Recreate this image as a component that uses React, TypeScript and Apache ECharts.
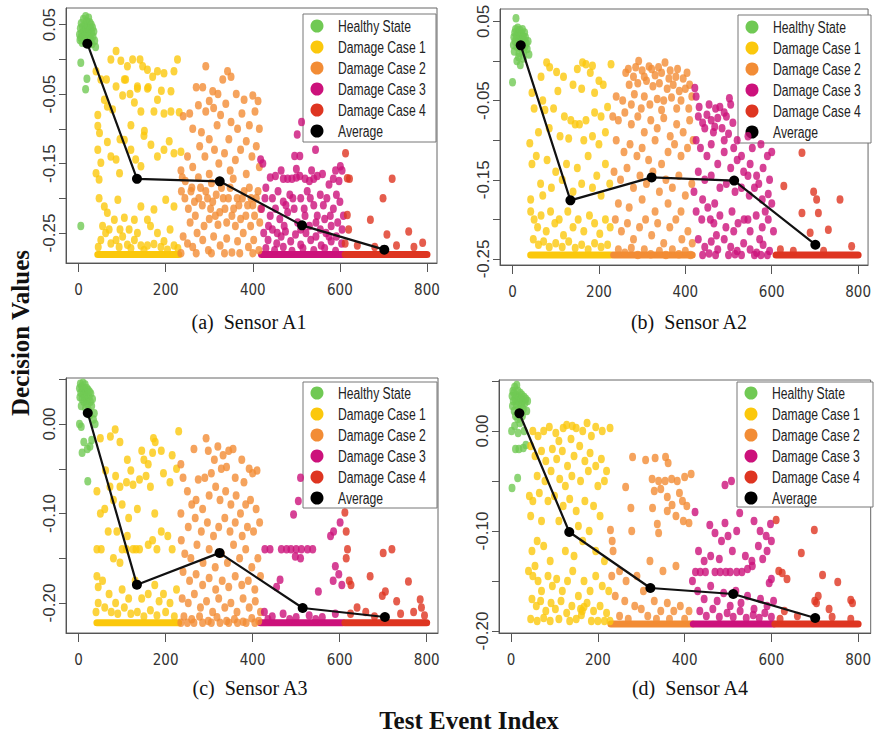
import React, { useEffect, useRef } from "react";
import * as echarts from "echarts";

// ---------- names, ticks, captions ----------
const seriesNames = ["Healthy State", "Damage Case 1", "Damage Case 2", "Damage Case 3", "Damage Case 4", "Average"];
const xTicks = [0, 200, 400, 600, 800];
const yTicksAB = [0.05, 0, -0.05, -0.1, -0.15, -0.2, -0.25];
const yLabelsAB = [0.05, -0.05, -0.15, -0.25];
const yTicksCD = [0.05, 0, -0.05, -0.1, -0.15, -0.2];
const yLabelsCD = [0, -0.1, -0.2];
const captions = ["(a)\u2002Sensor A1", "(b)\u2002Sensor A2", "(c)\u2002Sensor A3", "(d)\u2002Sensor A4"];
const yTitle = "Decision Values";
const xTitle = "Test Event Index";

// ---------- Sensor A1 ----------
const healthyA = [[2,0.036],[3,0.028],[4,0.045],[5,0.031],[6,0.052],[7,0.038],[8,0.024],[9,0.047],[10,0.033],[11,0.058],[12,0.041],[13,0.027],[14,0.05],[15,0.036],[16,0.062],[17,0.044],[18,0.03],[19,0.055],[20,0.039],[21,0.048],[22,0.026],[23,0.06],[24,0.042],[25,0.034],[26,0.053],[27,0.045],[28,0.029],[29,0.05],[30,0.038],[31,0.022],[32,0.046],[33,0.033],[35,0.04],[37,0.027],[39,0.018],[5,-0.005],[19,-0.028],[16,-0.043],[5,-0.24]];
const d1A = [[40,-0.017],[51,-0.029],[64,-0.029],[74,0.0],[86,0.012],[97,-0.002],[112,-0.01],[124,0.0],[141,0.0],[147,-0.01],[158,-0.015],[170,-0.025],[181,-0.017],[196,-0.02],[212,-0.046],[227,0.0],[219,-0.017],[105,-0.029],[135,-0.039],[160,-0.04],[190,-0.045],
[44,-0.08],[44,-0.096],[48,-0.106],[59,-0.058],[66,-0.068],[78,-0.072],[86,-0.039],[101,-0.052],[108,-0.029],[118,-0.05],[128,-0.062],[135,-0.042],[143,-0.075],[158,-0.042],[173,-0.075],[181,-0.058],[196,-0.078],[212,-0.075],[231,-0.076],[120,-0.095],[150,-0.11],[95,-0.115],
[44,-0.13],[51,-0.149],[66,-0.119],[74,-0.14],[86,-0.144],[94,-0.164],[105,-0.116],[120,-0.13],[131,-0.144],[143,-0.154],[151,-0.103],[166,-0.123],[181,-0.14],[196,-0.13],[208,-0.118],[219,-0.135],[235,-0.133],[40,-0.164],[47,-0.173],
[47,-0.2],[59,-0.212],[66,-0.221],[82,-0.231],[90,-0.202],[105,-0.228],[116,-0.245],[128,-0.231],[143,-0.212],[158,-0.231],[173,-0.216],[181,-0.25],[200,-0.202],[219,-0.212],[55,-0.24],[70,-0.245],[95,-0.245],[135,-0.25],[165,-0.24],[210,-0.245],
[51,-0.26],[62,-0.25],[74,-0.265],[86,-0.26],[101,-0.255],[112,-0.267],[128,-0.26],[143,-0.268],[158,-0.268],[173,-0.266],[189,-0.27],[204,-0.274],[219,-0.268],[45,-0.27],[93,-0.27],[120,-0.272],[150,-0.275],[196,-0.262],[228,-0.272]];
const d2A = [[292,-0.01],[342,-0.017],[331,-0.029],[350,-0.025],[270,-0.04],[285,-0.04],[308,-0.046],[320,-0.05],[362,-0.05],[300,-0.06],[380,-0.058],[400,-0.052],[412,-0.06],
[240,-0.082],[255,-0.078],[275,-0.066],[292,-0.075],[310,-0.07],[326,-0.08],[338,-0.064],[350,-0.09],[365,-0.1],[375,-0.078],[392,-0.095],[405,-0.075],[415,-0.1],[262,-0.1],[282,-0.105],[300,-0.115],[318,-0.095],[345,-0.115],[385,-0.118],
[235,-0.16],[250,-0.14],[262,-0.155],[278,-0.125],[290,-0.14],[300,-0.165],[312,-0.13],[322,-0.15],[335,-0.135],[348,-0.16],[360,-0.145],[372,-0.13],[385,-0.165],[398,-0.14],[408,-0.125],[415,-0.155],[245,-0.175],[275,-0.17],[305,-0.178],[355,-0.172],
[236,-0.19],[244,-0.2],[252,-0.215],[260,-0.185],[268,-0.225],[276,-0.2],[284,-0.21],[292,-0.19],[300,-0.23],[308,-0.205],[316,-0.195],[324,-0.22],[332,-0.2],[340,-0.235],[348,-0.185],[356,-0.215],[364,-0.2],[372,-0.23],[380,-0.19],[388,-0.21],[396,-0.2],[404,-0.225],[412,-0.19],[418,-0.215],[256,-0.235],[288,-0.24],[320,-0.238],[360,-0.24],[395,-0.24],
[238,-0.17],[258,-0.19],[266,-0.205],[280,-0.185],[296,-0.2],[303,-0.215],[314,-0.225],[328,-0.185],[336,-0.215],[344,-0.2],[352,-0.225],[368,-0.21],[376,-0.2],[384,-0.225],[392,-0.185],[400,-0.21],[408,-0.2],[416,-0.235],
[240,-0.255],[250,-0.265],[262,-0.27],[272,-0.25],[285,-0.26],[298,-0.275],[310,-0.255],[325,-0.268],[340,-0.258],[352,-0.278],[365,-0.262],[378,-0.25],[390,-0.27],[402,-0.26],[414,-0.275],[235,-0.279],[270,-0.279],[305,-0.279],[335,-0.279],[370,-0.279],[400,-0.279]];
const d3A = [[502,-0.108],[544,-0.13],[496,-0.139],[508,-0.139],[418,-0.144],[423,-0.15],[601,-0.154],[605,-0.16],[512,-0.09],
[440,-0.17],[452,-0.168],[470,-0.172],[480,-0.172],[490,-0.172],[500,-0.17],[508,-0.168],[520,-0.172],[530,-0.175],[540,-0.172],[548,-0.168],[465,-0.16],[500,-0.158],[535,-0.16],[560,-0.165],[575,-0.18],[585,-0.172],[590,-0.16],[598,-0.175],
[430,-0.185],[445,-0.2],[458,-0.19],[470,-0.205],[485,-0.195],[495,-0.215],[510,-0.2],[525,-0.19],[540,-0.21],[555,-0.195],[570,-0.2],[585,-0.215],[600,-0.205],[440,-0.225],[462,-0.23],[480,-0.22],[503,-0.235],[520,-0.225],[545,-0.235],[565,-0.23],[580,-0.24],[595,-0.235],[608,-0.225],[420,-0.215],
[428,-0.2],[452,-0.215],[476,-0.21],[492,-0.2],[518,-0.215],[532,-0.2],[548,-0.225],[562,-0.21],[578,-0.225],[592,-0.195],[605,-0.245],[436,-0.24],[456,-0.25],[472,-0.24],[510,-0.245],[530,-0.24],[555,-0.245],[575,-0.255],
[425,-0.25],[435,-0.26],[445,-0.245],[455,-0.265],[465,-0.255],[475,-0.248],[487,-0.262],[498,-0.252],[510,-0.267],[522,-0.25],[533,-0.26],[545,-0.255],[557,-0.268],[568,-0.25],[580,-0.262],[592,-0.255],[604,-0.265],[430,-0.272],[450,-0.275],[470,-0.27],[490,-0.276],[515,-0.272],[540,-0.275],[565,-0.272],[590,-0.276]];
const d4A = [[613,-0.135],[617,-0.171],[622,-0.172],[720,-0.172],[699,-0.2],[617,-0.224],[670,-0.231],[708,-0.252],[758,-0.248],[620,-0.245],[790,-0.264],[640,-0.268],[680,-0.27],[730,-0.268],[770,-0.27],[612,-0.265]];
const avgA = [[20,0.0226],[134,-0.172],[324,-0.1756],[513,-0.239],[702,-0.274]];
const floorYA = -0.281;
const floorsA = [[1,44,230],[3,420,608],[4,612,800]];

// ---------- Sensor A2 ----------
const healthyB = [[2,0.02],[3,0.03],[4,0.012],[5,0.036],[6,0.025],[7,0.04],[8,0.054],[9,0.03],[10,0.018],[11,0.033],[12,0.042],[13,0.024],[14,0.037],[15,0.01],[16,0.028],[17,0.039],[18,0.022],[19,0.032],[20,0.015],[21,0.035],[22,0.027],[23,0.04],[24,0.02],[25,0.031],[26,0.012],[27,0.026],[28,0.036],[29,0.018],[30,0.03],[32,0.022],[34,0.015],[36,0.025],[38,0.008],[10,0.0],[18,-0.005],[25,0.003],[0,-0.027],[14,0.005]];
const d1B = [[79,-0.002],[86,-0.008],[102,-0.014],[118,-0.02],[162,-0.002],[170,-0.004],[185,-0.006],[228,-0.004],[150,-0.01],[180,-0.015],[200,-0.025],[66,-0.02],[140,-0.03],[160,-0.035],[190,-0.04],[210,-0.03],[105,-0.038],[45,-0.04],[70,-0.05],
[40,-0.104],[50,-0.06],[75,-0.062],[95,-0.06],[120,-0.07],[135,-0.075],[145,-0.08],[155,-0.08],[170,-0.075],[190,-0.065],[205,-0.07],[220,-0.058],[60,-0.09],[85,-0.085],[110,-0.095],[130,-0.098],[165,-0.1],[185,-0.095],[200,-0.105],[215,-0.09],
[45,-0.13],[55,-0.12],[80,-0.125],[100,-0.14],[125,-0.13],[150,-0.135],[175,-0.12],[195,-0.145],[215,-0.13],[65,-0.155],[90,-0.16],[115,-0.15],[140,-0.165],[160,-0.155],[185,-0.16],[205,-0.17],[225,-0.155],[42,-0.175],[70,-0.17],
[42,-0.19],[50,-0.2],[58,-0.21],[66,-0.195],[78,-0.215],[88,-0.19],[98,-0.205],[108,-0.2],[118,-0.22],[128,-0.19],[140,-0.21],[152,-0.2],[165,-0.215],[178,-0.195],[190,-0.205],[202,-0.218],[215,-0.2],[226,-0.21],[48,-0.225],[60,-0.232],[72,-0.228],[85,-0.235],[100,-0.23],[115,-0.235],[130,-0.228],[145,-0.236],[160,-0.232],[175,-0.238],[190,-0.23],[205,-0.235],[220,-0.232]];
const d2B = [[292,0.0],[353,-0.002],[316,-0.007],[262,-0.015],[280,-0.02],[300,-0.012],[330,-0.018],[345,-0.015],[365,-0.012],[378,-0.02],[395,-0.022],[410,-0.03],[270,-0.03],[290,-0.028],[310,-0.025],[325,-0.032],[340,-0.028],[358,-0.035],[372,-0.03],[386,-0.038],[400,-0.035],[415,-0.045],[240,-0.045],[255,-0.05],[282,-0.042],[305,-0.045],[335,-0.048],[350,-0.05],[368,-0.046],[390,-0.05],
[268,-0.01],[285,-0.008],[305,-0.02],[322,-0.01],[338,-0.008],[362,-0.022],[382,-0.01],[404,-0.015],[275,-0.055],[298,-0.06],[318,-0.055],[345,-0.062],[380,-0.06],[408,-0.06],
[232,-0.07],[245,-0.075],[260,-0.065],[275,-0.08],[290,-0.07],[305,-0.09],[320,-0.075],[335,-0.085],[350,-0.072],[365,-0.095],[380,-0.08],[395,-0.09],[410,-0.075],[240,-0.1],[258,-0.115],[272,-0.105],[288,-0.12],[300,-0.11],[315,-0.125],[330,-0.1],[345,-0.13],[360,-0.115],[375,-0.105],[390,-0.12],[405,-0.11],[418,-0.1],
[235,-0.14],[250,-0.15],[265,-0.135],[280,-0.16],[295,-0.145],[310,-0.155],[325,-0.14],[340,-0.165],[355,-0.15],[370,-0.16],[385,-0.145],[400,-0.17],[415,-0.155],[245,-0.18],[270,-0.185],[300,-0.175],[330,-0.19],[360,-0.18],[390,-0.19],
[238,-0.2],[252,-0.215],[266,-0.205],[280,-0.225],[294,-0.21],[308,-0.2],[322,-0.22],[336,-0.205],[350,-0.23],[364,-0.21],[378,-0.2],[392,-0.225],[406,-0.215],[416,-0.23],[245,-0.238],[260,-0.242],[275,-0.236],[290,-0.245],[305,-0.238],[320,-0.244],[340,-0.24],[355,-0.245],[370,-0.238],[385,-0.244],[400,-0.24],[412,-0.245]];
const d3B = [[422,-0.034],[425,-0.045],[502,-0.047],[505,-0.055],[470,-0.06],[480,-0.058],[490,-0.065],[450,-0.068],[460,-0.075],[475,-0.072],[495,-0.07],[510,-0.078],[430,-0.07],[440,-0.078],[445,-0.085],[465,-0.09],[485,-0.085],[500,-0.092],[520,-0.1],[545,-0.095],[555,-0.11],[575,-0.105],[590,-0.12],[600,-0.115],
[432,-0.058],[455,-0.055],[468,-0.083],[490,-0.1],[512,-0.11],[530,-0.12],[545,-0.145],[570,-0.155],[585,-0.19],[600,-0.18],[458,-0.2],[472,-0.22],[512,-0.215],[545,-0.2],[572,-0.225],
[425,-0.1],[435,-0.11],[450,-0.12],[460,-0.105],[475,-0.13],[490,-0.115],[505,-0.135],[520,-0.125],[535,-0.14],[550,-0.13],[565,-0.145],[580,-0.135],[595,-0.15],[430,-0.14],[445,-0.15],[460,-0.145],[480,-0.16],[495,-0.155],[515,-0.165],[530,-0.16],[548,-0.17],[560,-0.16],[578,-0.175],[592,-0.168],[420,-0.165],[440,-0.175],[468,-0.18],
[425,-0.19],[438,-0.2],[452,-0.185],[466,-0.205],[480,-0.195],[494,-0.21],[508,-0.19],[522,-0.205],[536,-0.2],[550,-0.215],[564,-0.195],[578,-0.21],[592,-0.2],[604,-0.215],[430,-0.225],[445,-0.235],[460,-0.228],[475,-0.238],[490,-0.225],[505,-0.235],[520,-0.24],[535,-0.23],[550,-0.238],[565,-0.242],[580,-0.232],[595,-0.24],[440,-0.245],[470,-0.245],[500,-0.245],[530,-0.245],[560,-0.245],[590,-0.245],[455,-0.243],[515,-0.244],[575,-0.245]];
const d4B = [[670,-0.116],[628,-0.158],[697,-0.165],[704,-0.175],[758,-0.175],[670,-0.192],[708,-0.192],[731,-0.213],[689,-0.217],[785,-0.234],[620,-0.238],[650,-0.24],[720,-0.24]];
const avgB = [[19,0.0197],[134,-0.176],[322,-0.147],[513,-0.151],[701,-0.232]];
const floorYB = -0.245;
const floorsB = [[1,42,228],[2,234,416],[4,610,800]];

// ---------- Sensor A3 ----------
const healthyC = [[2,0.04],[3,0.03],[4,0.045],[5,0.035],[6,0.02],[7,0.042],[8,0.028],[9,0.038],[10,0.046],[11,0.033],[12,0.025],[13,0.04],[14,0.03],[15,0.044],[16,0.018],[17,0.036],[18,0.026],[19,0.04],[20,0.032],[21,0.022],[22,0.038],[23,0.015],[24,0.03],[25,0.036],[26,0.01],[27,0.025],[28,0.034],[30,0.02],[32,0.028],[34,0.005],[36,0.012],[38,0.0],[2,0.0],[6,-0.003],[12,-0.02],[26,-0.025],[20,-0.028],[8,-0.032],[21,-0.064],[30,-0.018]];
const d1C = [[84,-0.006],[50,-0.016],[73,-0.014],[95,-0.02],[172,-0.016],[176,-0.02],[230,-0.008],[190,-0.03],[215,-0.035],[145,-0.03],[150,-0.04],[160,-0.045],[112,-0.04],[120,-0.052],[170,-0.032],
[42,-0.075],[62,-0.052],[72,-0.07],[85,-0.058],[95,-0.07],[110,-0.065],[125,-0.068],[140,-0.062],[155,-0.058],[165,-0.07],[195,-0.055],[210,-0.065],[225,-0.05],[50,-0.1],[60,-0.095],[80,-0.085],[100,-0.09],[115,-0.105],[135,-0.095],[175,-0.1],[190,-0.12],[205,-0.125],[88,-0.12],[68,-0.12],[112,-0.125],
[42,-0.14],[52,-0.14],[100,-0.14],[110,-0.14],[125,-0.14],[132,-0.14],[140,-0.14],[160,-0.135],[170,-0.13],[180,-0.14],[215,-0.14],[80,-0.15],[95,-0.155],
[42,-0.17],[45,-0.182],[55,-0.175],[70,-0.19],[85,-0.2],[100,-0.185],[115,-0.195],[130,-0.175],[145,-0.195],[160,-0.19],[175,-0.18],[185,-0.198],[195,-0.19],[210,-0.2],[225,-0.185],[45,-0.2],[60,-0.205],[75,-0.21],[90,-0.212],[105,-0.205],[120,-0.212],[135,-0.21],[150,-0.215],[165,-0.208],[180,-0.214],[200,-0.21],[220,-0.215],[40,-0.21]];
const d2C = [[293,-0.016],[265,-0.028],[298,-0.03],[320,-0.025],[345,-0.03],[355,-0.028],[312,-0.04],[332,-0.035],[328,-0.05],[340,-0.048],[375,-0.04],[392,-0.05],[410,-0.052],[275,-0.062],[290,-0.06],[305,-0.055],[235,-0.045],[240,-0.06],[360,-0.06],[380,-0.065],[400,-0.055],
[235,-0.1],[250,-0.075],[260,-0.09],[270,-0.085],[285,-0.095],[300,-0.08],[315,-0.07],[325,-0.085],[338,-0.075],[350,-0.09],[362,-0.08],[372,-0.1],[384,-0.09],[395,-0.085],[408,-0.095],[252,-0.115],[268,-0.105],[282,-0.12],[296,-0.11],[310,-0.125],[322,-0.115],[336,-0.105],[348,-0.12],[360,-0.11],[376,-0.125],[388,-0.115],[402,-0.12],[416,-0.11],
[236,-0.13],[244,-0.145],[258,-0.15],[272,-0.135],[286,-0.155],[300,-0.14],[314,-0.16],[328,-0.145],[342,-0.155],[356,-0.135],[370,-0.15],[384,-0.14],[398,-0.16],[412,-0.15],[240,-0.165],[255,-0.175],[270,-0.168],[285,-0.18],[300,-0.172],[315,-0.185],[330,-0.175],[345,-0.182],[360,-0.17],[375,-0.18],[390,-0.175],[405,-0.185],[418,-0.17],
[238,-0.195],[252,-0.2],[266,-0.19],[280,-0.205],[294,-0.198],[308,-0.21],[322,-0.195],[336,-0.205],[350,-0.2],[364,-0.21],[378,-0.195],[392,-0.205],[406,-0.198],[418,-0.21],[242,-0.215],[260,-0.218],[278,-0.215],[298,-0.22],[318,-0.216],[340,-0.22],[358,-0.218],[378,-0.221],[398,-0.217],[414,-0.22],
[235,-0.222],[250,-0.222],[265,-0.222],[285,-0.222],[305,-0.222],[325,-0.222],[345,-0.222],[365,-0.222],[385,-0.222],[405,-0.222]];
const d3C = [[505,-0.086],[494,-0.101],[510,-0.06],[586,-0.12],[601,-0.11],[579,-0.125],[590,-0.159],[598,-0.168],[463,-0.174],[455,-0.182],[551,-0.187],[510,-0.15],[498,-0.148],[585,-0.175],[605,-0.18],
[428,-0.14],[440,-0.14],[466,-0.14],[478,-0.14],[488,-0.14],[500,-0.14],[512,-0.14],[526,-0.14],[538,-0.14],
[427,-0.21],[445,-0.215],[470,-0.212],[500,-0.216],[530,-0.214],[560,-0.216],[590,-0.212],[435,-0.218],[485,-0.218],[545,-0.218]];
const d4C = [[612,-0.099],[615,-0.12],[618,-0.14],[615,-0.15],[622,-0.175],[626,-0.18],[670,-0.17],[700,-0.144],[720,-0.14],[705,-0.187],[698,-0.192],[731,-0.198],[758,-0.176],[785,-0.196],[788,-0.205],[640,-0.205],[660,-0.21],[680,-0.215],[740,-0.212],[770,-0.21],[625,-0.212],[795,-0.214]];
const avgC = [[21,0.0123],[134,-0.1795],[324,-0.144],[515,-0.2056],[704,-0.2156]];
const floorYC = -0.222;
const floorsC = [[1,42,230],[3,418,608],[4,612,800]];

// ---------- Sensor A4 ----------
const healthyD = [[2,0.035],[3,0.025],[4,0.04],[5,0.03],[6,0.038],[7,0.02],[8,0.044],[9,0.032],[10,0.015],[11,0.036],[12,0.026],[13,0.046],[14,0.03],[15,0.012],[16,0.04],[17,0.022],[18,0.034],[19,0.028],[20,0.008],[21,0.038],[22,0.02],[23,0.032],[24,0.026],[25,0.036],[26,0.015],[27,0.03],[28,0.022],[30,0.034],[32,0.028],[34,0.032],[36,0.02],[38,0.03],[1,0.0],[8,0.005],[16,-0.002],[30,0.0],[10,-0.018],[18,-0.018],[28,-0.017],[34,-0.014],[15,-0.047],[2,-0.057]];
const d1D = [[50,0.0],[62,-0.005],[75,0.0],[88,0.004],[103,-0.002],[120,0.003],[128,0.006],[141,0.005],[150,0.003],[165,0.0],[175,0.008],[195,0.004],[210,0.0],[228,0.003],[185,-0.005],[138,-0.008],[110,-0.01],
[45,-0.015],[55,-0.025],[70,-0.02],[80,-0.03],[95,-0.018],[105,-0.028],[118,-0.02],[130,-0.035],[145,-0.025],[158,-0.015],[170,-0.03],[182,-0.022],[195,-0.035],[208,-0.028],[220,-0.04],[60,-0.045],[78,-0.05],[92,-0.04],[112,-0.048],[125,-0.055],[140,-0.045],[160,-0.05],[178,-0.04],[200,-0.055],[215,-0.05],
[42,-0.065],[50,-0.07],[65,-0.062],[85,-0.07],[100,-0.065],[120,-0.075],[135,-0.068],[150,-0.08],[170,-0.07],[190,-0.075],[205,-0.085],[45,-0.085],[70,-0.09],[110,-0.09],[155,-0.095],[180,-0.1],[60,-0.11],[48,-0.12],[75,-0.115],[90,-0.13],[125,-0.12],[145,-0.125],[165,-0.11],[195,-0.12],[215,-0.13],[40,-0.14],[55,-0.135],
[50,-0.145],[62,-0.15],[70,-0.16],[85,-0.145],[95,-0.155],[105,-0.148],[118,-0.16],[130,-0.15],[142,-0.14],[155,-0.165],[168,-0.15],[182,-0.16],[195,-0.145],[210,-0.155],[225,-0.16],[48,-0.168],[58,-0.175],[68,-0.17],[80,-0.18],[92,-0.172],[102,-0.178],[115,-0.17],[128,-0.182],[140,-0.175],[160,-0.178],[164,-0.18],[168,-0.176],[162,-0.184],[175,-0.172],[190,-0.18],[205,-0.175],[220,-0.182],[45,-0.188],[60,-0.19],[75,-0.187],[90,-0.19],[110,-0.188],[135,-0.19],[150,-0.188],[185,-0.19],[200,-0.19],[215,-0.19],[228,-0.19]];
const d2D = [[280,-0.026],[310,-0.029],[332,-0.027],[356,-0.026],[362,-0.032],[264,-0.056],[325,-0.048],[340,-0.05],[355,-0.05],[370,-0.048],[383,-0.05],[400,-0.046],[415,-0.043],[330,-0.06],[345,-0.058],[360,-0.066],[395,-0.07],[405,-0.075],[388,-0.062],[276,-0.077],[326,-0.077],[360,-0.08],[371,-0.074],[380,-0.085],[397,-0.09],[410,-0.092],[337,-0.093],[229,-0.099],[233,-0.11],[235,-0.12],[278,-0.1],[340,-0.102],[320,-0.13],[250,-0.14],[265,-0.15],[290,-0.145],[305,-0.16],[350,-0.14],[380,-0.135],[232,-0.145],[240,-0.165],[262,-0.17],[285,-0.175],[300,-0.178],[330,-0.17],[345,-0.18],[360,-0.172],[375,-0.18],[390,-0.175],[410,-0.18],[250,-0.185],[270,-0.188],[315,-0.185],[335,-0.188],[365,-0.188],[400,-0.188]];
const d3D = [[493,-0.054],[508,-0.05],[424,-0.081],[527,-0.082],[493,-0.092],[458,-0.094],[470,-0.102],[485,-0.11],[500,-0.105],[520,-0.1],[560,-0.09],[574,-0.1],[598,-0.093],[588,-0.105],[570,-0.115],[580,-0.128],[590,-0.12],[600,-0.11],[432,-0.12],[445,-0.13],[460,-0.125],[480,-0.128],[510,-0.12],[540,-0.125],[555,-0.13],
[425,-0.141],[436,-0.141],[448,-0.141],[470,-0.141],[482,-0.141],[495,-0.141],[505,-0.141],[520,-0.141],[532,-0.141],[545,-0.138],[556,-0.135],[600,-0.148],[595,-0.152],[418,-0.15],
[430,-0.16],[445,-0.168],[460,-0.155],[475,-0.17],[490,-0.162],[505,-0.175],[518,-0.16],[530,-0.172],[545,-0.165],[560,-0.178],[575,-0.168],[590,-0.175],[605,-0.17],[435,-0.18],[450,-0.185],[465,-0.178],[480,-0.186],[498,-0.182],[512,-0.186],[528,-0.18],[542,-0.187],[558,-0.184],[572,-0.187],[585,-0.182],[600,-0.186]];
const d4D = [[611,-0.089],[699,-0.099],[669,-0.122],[617,-0.14],[625,-0.142],[636,-0.148],[718,-0.144],[753,-0.151],[708,-0.165],[700,-0.17],[704,-0.172],[733,-0.178],[783,-0.169],[787,-0.172],[783,-0.188],[630,-0.18],[660,-0.185],[740,-0.186],[620,-0.188]];
const avgD = [[19,0.0177],[134,-0.101],[321,-0.157],[512,-0.163],[701,-0.187]];
const floorYD = -0.193;
const floorsD = [[2,230,418],[3,420,605],[4,608,800]];

// ---------- styles & layout ----------
const colors = ["#70c954", "#fbc80c", "#f28c35", "#cc117b", "#de3521", "#000000"];
const SANS = "'Liberation Sans', Arial, sans-serif";
const SERIF = "'Liberation Serif', 'Times New Roman', serif";
const DOT = "path://M0,5a5,5 0 1,0 10,0a5,5 0 1,0 -10,0";

const panels = [
  { healthy: healthyA, dmg: [d1A, d2A, d3A, d4A], avg: avgA, floorY: floorYA, floors: floorsA,
    grid: { left: 66, top: 8, width: 371, height: 255 }, x: [-29, 823], y: [-0.2932, 0.074],
    yTicks: yTicksAB, yLabels: yLabelsAB, legend: { x: 303, y: 14, w: 133, h: 128, dy: 12 }, cap: [249, 322] },
  { healthy: healthyB, dmg: [d1B, d2B, d3B, d4B], avg: avgB, floorY: floorYB, floors: floorsB,
    grid: { left: 500, top: 9, width: 372, height: 256 }, x: [-29, 823], y: [-0.2576, 0.0656],
    yTicks: yTicksAB, yLabels: yLabelsAB, legend: { x: 738, y: 15, w: 133, h: 128, dy: 12 }, cap: [689, 322] },
  { healthy: healthyC, dmg: [d1C, d2C, d3C, d4C], avg: avgC, floorY: floorYC, floors: floorsC,
    grid: { left: 66, top: 378, width: 372, height: 255 }, x: [-29, 826], y: [-0.2335, 0.0514],
    yTicks: yTicksCD, yLabels: yLabelsCD, legend: { x: 303, y: 382, w: 134, h: 126, dy: 11 }, cap: [250, 688] },
  { healthy: healthyD, dmg: [d1D, d2D, d3D, d4D], avg: avgD, floorY: floorYD, floors: floorsD,
    grid: { left: 499, top: 380, width: 374, height: 253 }, x: [-28, 829], y: [-0.202, 0.051],
    yTicks: yTicksCD, yLabels: yLabelsCD, legend: { x: 737, y: 382, w: 136, h: 125, dy: 11 }, cap: [690, 688] },
];

function buildOption() {
  const grid: any[] = [];
  const xAxis: any[] = [];
  const yAxis: any[] = [];
  const series: any[] = [];
  const graphic: any[] = [];
  const axisColor = "#555";

  panels.forEach((p, i) => {
    grid.push({ ...p.grid, show: true, borderColor: "#666", borderWidth: 1, backgroundColor: "transparent" });
    xAxis.push({
      type: "value", gridIndex: i, min: p.x[0], max: p.x[1],
      axisLine: { show: true, onZero: false, lineStyle: { color: axisColor } },
      axisTick: { show: true, length: 9, customValues: xTicks, lineStyle: { color: axisColor } },
      axisLabel: { customValues: xTicks, margin: 19, fontSize: 15, color: "#333", fontFamily: "'DejaVu Sans Condensed', 'Liberation Sans', sans-serif" },
      splitLine: { show: false },
    });
    yAxis.push({
      type: "value", gridIndex: i, min: p.y[0], max: p.y[1],
      axisLine: { show: true, onZero: false, lineStyle: { color: axisColor } },
      axisTick: { show: true, length: 7, customValues: p.yTicks, lineStyle: { color: axisColor } },
      axisLabel: {
        customValues: p.yLabels, rotate: 90, margin: 8, fontSize: 17, color: "#333", fontFamily: SANS,
        formatter: (v: number) => Number(v).toFixed(2),
      },
      splitLine: { show: false },
    });
    const common = { xAxisIndex: i, yAxisIndex: i };
    // floor bands (densely packed points at the lower bound)
    p.floors.forEach((f) => {
      series.push({
        ...common, type: "line", name: seriesNames[f[0]] + " floor", z: 2,
        data: [[f[1], p.floorY], [f[2], p.floorY]], symbol: "none", silent: true,
        lineStyle: { color: colors[f[0]], width: 7, cap: "round" },
      });
    });
    series.push({
      ...common, type: "scatter", name: seriesNames[0], data: p.healthy, symbol: DOT, symbolSize: [7, 8.5],
      itemStyle: { color: colors[0] }, z: 2,
    });
    p.dmg.forEach((d, k) => {
      series.push({
        ...common, type: "scatter", name: seriesNames[k + 1], data: d, symbol: DOT, symbolSize: [7, 8.5],
        itemStyle: { color: colors[k + 1] }, z: 2,
      });
    });
    series.push({
      ...common, type: "line", name: seriesNames[5], data: p.avg, symbol: "circle", symbolSize: 10,
      itemStyle: { color: "#000" }, lineStyle: { color: "#111", width: 2.2 }, z: 3,
    });

    // legend box (R style), drawn as a graphic group so its text can be condensed
    const lg = p.legend;
    const children: any[] = [
      { type: "rect", shape: { x: 0, y: 0, width: lg.w, height: lg.h }, style: { fill: "#fff", stroke: "#777", lineWidth: 1 } },
    ];
    seriesNames.forEach((n, k) => {
      children.push({ type: "circle", shape: { cx: 14, cy: lg.dy + 21 * k, r: 6.5 }, style: { fill: colors[k] } });
      children.push({
        type: "text", x: 35, y: lg.dy + 21 * k, scaleX: 0.76,
        style: { text: n, font: `16px ${SANS}`, fill: "#222", textAlign: "left", textVerticalAlign: "middle" },
      });
    });
    graphic.push({ type: "group", x: lg.x, y: lg.y, z: 10, children });

    graphic.push({
      type: "text", x: p.cap[0], y: p.cap[1],
      style: { text: captions[i], font: `20px ${SERIF}`, fill: "#111", textAlign: "center", textVerticalAlign: "middle" },
    });
  });

  graphic.push({
    type: "text", x: 20, y: 333, rotation: Math.PI / 2,
    style: { text: yTitle, font: `bold 25px ${SERIF}`, fill: "#111", textAlign: "center", textVerticalAlign: "middle" },
  });
  graphic.push({
    type: "text", x: 469, y: 720,
    style: { text: xTitle, font: `bold 25px ${SERIF}`, fill: "#111", textAlign: "center", textVerticalAlign: "middle" },
  });

  return { animation: false, backgroundColor: "#fff", grid, xAxis, yAxis, series, graphic };
}

export default function App() {
  const ref = useRef<HTMLDivElement>(null);
  useEffect(() => {
    if (!ref.current) return;
    const chart = echarts.init(ref.current, undefined, { renderer: "svg" });
    chart.setOption(buildOption() as any);
    return () => chart.dispose();
  }, []);
  return (
    <div
      ref={ref}
      style={{ position: "absolute", left: 0, top: 0, width: 874, height: 736, background: "#fff" }}
    />
  );
}
